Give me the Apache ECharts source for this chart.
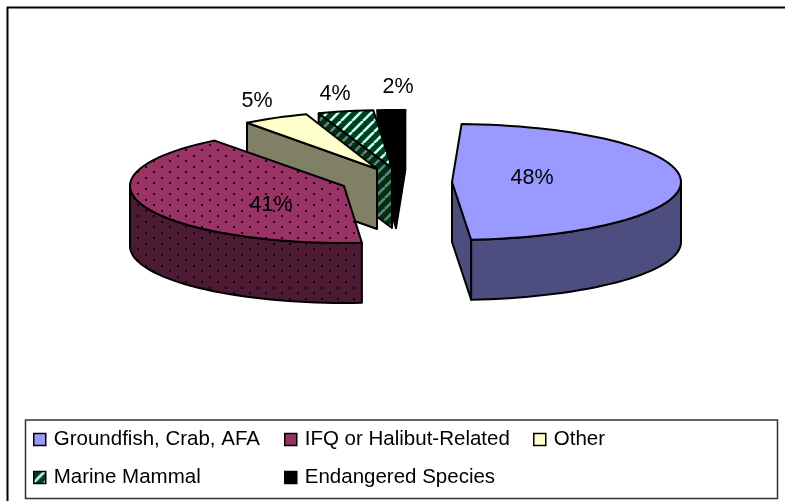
<!DOCTYPE html>
<html>
<head>
<meta charset="utf-8">
<style>html,body{margin:0;padding:0;background:#fff}#chart{width:785px;height:502px}</style>
<script src="https://cdn.jsdelivr.net/npm/echarts@6/dist/echarts.min.js"></script>
</head>
<body>
<div id="chart"></div>
<script>
// Share of cases by programme area
const categories = ['Groundfish, Crab, AFA', 'IFQ or Halibut-Related', 'Other', 'Marine Mammal', 'Endangered Species'];
const shares = [48, 41, 5, 4, 2];

// Layout of the tilted, exploded pie (pixels)
const firstSliceAngle = 2.4;
const depth = 60;
const sliceFrames = [
  { cx: 452, cy: 182, rx: 229, ry: 58 },
  { cx: 344, cy: 186, rx: 214, ry: 57 },
  { cx: 377, cy: 169, rx: 215, ry: 58 },
  { cx: 392, cy: 168, rx: 223, ry: 58 },
  { cx: 396, cy: 168, rx: 223, ry: 58 }
];
const labelPositions = [[532, 178], [271, 205], [257, 101], [335, 94], [398, 87]];
// Far slices are painted first so nearer ones overlap them
const drawOrder = [6, 5, 4, 3, 2];

function tile(w, h, paint) {
  const c = document.createElement('canvas');
  c.width = w; c.height = h;
  paint(c.getContext('2d'), w, h);
  return { image: c, repeat: 'repeat' };
}
function dots(bg, dot) {
  return tile(16, 11, (g, w, h) => {
    g.fillStyle = bg; g.fillRect(0, 0, w, h);
    g.fillStyle = dot;
    g.fillRect(1, 1, 2, 2);
    g.fillRect(9, 6, 2, 2);
  });
}
function stripes(bg, fg) {
  return tile(11, 11, (g, w, h) => {
    g.fillStyle = bg; g.fillRect(0, 0, w, h);
    g.strokeStyle = fg; g.lineWidth = 2.6;
    for (let k = -w; k <= 2 * w; k += w) {
      g.beginPath(); g.moveTo(k, h); g.lineTo(k + w, 0); g.stroke();
    }
  });
}
const topFills = ['#9999FF', dots('#993366', '#1d0a14'), '#FFFFCC', stripes('#00401a', '#CCFFFF'), '#000000'];
const wallFills = ['#4D4D80', dots('#4D1A33', '#140509'), '#808066', stripes('#00300f', '#668080'), '#000000'];
const legendFills = ['#9999FF', '#993366', '#FFFFCC', stripes('#00401a', '#CCFFFF'), '#000000'];

const total = shares.reduce((a, b) => a + b, 0);
const startAngles = [];
shares.reduce((acc, v, i) => { startAngles[i] = acc; return acc + v / total * 360; }, firstSliceAngle);

function rim(f, deg, drop) {
  const t = deg * Math.PI / 180;
  return [f.cx + f.rx * Math.sin(t), f.cy - f.ry * Math.cos(t) + (drop || 0)];
}
function arc(f, a, b, drop) {
  const pts = [];
  const n = Math.max(2, Math.ceil(Math.abs(b - a) / 2.5));
  for (let i = 0; i <= n; i++) pts.push(rim(f, a + (b - a) * i / n, drop));
  return pts;
}
function renderSlice(index) {
  return function (params, api) {
    const f = sliceFrames[index];
    const sweep = api.value(0) / total * 360;
    const a = startAngles[index], b = a + sweep;
    const line = { stroke: '#000', lineWidth: 2, lineJoin: 'round' };
    const children = [];
    const poly = (points, fill, z) => children.push({
      type: 'polygon', z2: z, shape: { points }, style: Object.assign({ fill }, line)
    });
    // Radial walls that face the viewer
    const radial = (deg, z) => {
      const p = rim(f, deg);
      poly([[f.cx, f.cy], p, [p[0], p[1] + depth], [f.cx, f.cy + depth]], wallFills[index], z);
    };
    if (Math.sin(a * Math.PI / 180) < 0) radial(a, 1);
    if (Math.sin(b * Math.PI / 180) > 0) radial(b, 1);
    // Curved wall: only the near half of the rim is visible
    const from = Math.max(a, 90), to = Math.min(b, 270);
    if (to > from) {
      poly(arc(f, from, to, 0).concat(arc(f, to, from, depth)), wallFills[index], 2);
    }
    // Top face
    poly([[f.cx, f.cy]].concat(arc(f, a, b, 0)), topFills[index], 3);
    return { type: 'group', children };
  };
}
// Percentage labels sit above every slice, so they get their own series
const labelSeries = {
  type: 'custom',
  coordinateSystem: 'none',
  silent: true,
  z: 20,
  data: shares.map(v => [v]),
  renderItem(params, api) {
    const lp = labelPositions[params.dataIndex];
    return {
      type: 'text',
      style: {
        x: lp[0], y: lp[1], text: api.value(0) + '%', fill: '#000',
        font: '21.5px "Liberation Sans"', align: 'center', verticalAlign: 'middle'
      }
    };
  }
};

const series = categories.map((name, i) => ({
  type: 'custom',
  name,
  z: drawOrder[i],
  coordinateSystem: 'none',
  silent: true,
  itemStyle: { color: legendFills[i] },
  data: [[shares[i]]],
  renderItem: renderSlice(i)
})).concat([labelSeries]);

function legendColumn(names, left) {
  return {
    orient: 'vertical', left, top: 429, padding: 0, data: names, itemGap: 17,
    itemWidth: 12, itemHeight: 12, icon: 'rect', selectedMode: false,
    textStyle: { fontFamily: 'Liberation Sans', fontSize: 20.5, color: '#000', padding: [0, 0, 0, 3] },
    itemStyle: { borderColor: '#000', borderWidth: 1.5 }
  };
}

const chart = echarts.init(document.getElementById('chart'), null, { renderer: 'canvas' });
chart.setOption({
  backgroundColor: '#fff',
  animation: false,
  legend: [
    legendColumn([categories[0], categories[3]], 33),
    legendColumn([categories[1], categories[4]], 284),
    legendColumn([categories[2]], 533)
  ],
  graphic: [
    { type: 'polyline', z: 0, shape: { points: [[7.5, 501], [7.5, 7.5], [785, 7.5]] }, style: { fill: 'none', stroke: '#000', lineWidth: 2 } },
    { type: 'rect', z: 0, shape: { x: 25.5, y: 420, width: 752, height: 78.5 }, style: { fill: '#fff', stroke: '#333', lineWidth: 1.5 } }
  ],
  series
});
</script>
</body>
</html>
